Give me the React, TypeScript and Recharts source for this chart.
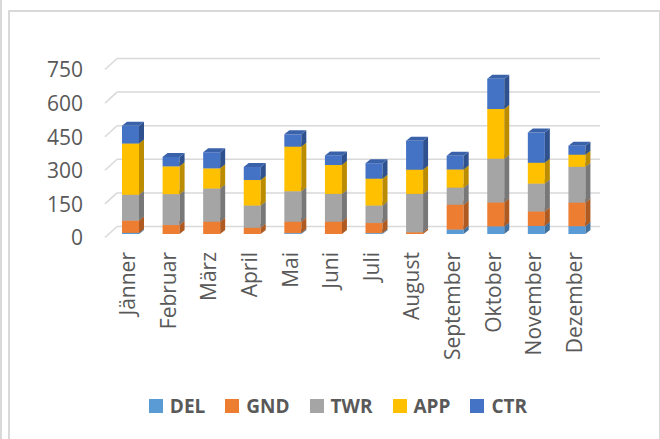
import React from 'react';
import { BarChart, Bar, XAxis, YAxis, CartesianGrid, Legend } from 'recharts';

const months = ['Jänner', 'Februar', 'März', 'April', 'Mai', 'Juni', 'Juli', 'August', 'September', 'Oktober', 'November', 'Dezember'];
const del = [5, 0, 0, 0, 4, 0, 4, 0, 20, 34, 36, 35];
const gnd = [55, 40, 55, 28, 51, 55, 45, 8, 111, 107, 65, 105];
const twr = [115, 138, 148, 99, 136, 124, 78, 171, 76, 195, 124, 160];
const app = [229, 124, 90, 114, 199, 129, 120, 108, 81, 222, 93, 54];
const ctr = [79, 42, 72, 58, 55, 43, 69, 129, 61, 135, 135, 40];
const yTicks = [0, 150, 300, 450, 600, 750];

const series = [
  { key: 'DEL', color: '#5B9BD5', side: '#41719C', top: '#4A85BC' },
  { key: 'GND', color: '#ED7D31', side: '#AE5A21', top: '#C9692A' },
  { key: 'TWR', color: '#A5A5A5', side: '#787878', top: '#8E8E8E' },
  { key: 'APP', color: '#FFC000', side: '#BC8C00', top: '#DCA600' },
  { key: 'CTR', color: '#4472C4', side: '#2F528F', top: '#3A62AA' },
];

const data = months.map((m, i) => ({
  month: m, DEL: del[i], GND: gnd[i], TWR: twr[i], APP: app[i], CTR: ctr[i],
}));

const FONT = '"Open Sans", sans-serif';
const DX = 5;
const DY = 4;

// front face + right side + top, to fake the 3d columns
const Box3D = (props: any) => {
  const { x, y, width, height, fill, side, top } = props;
  if (!height || height <= 0) return null;
  return (
    <g>
      <rect x={x} y={y} width={width} height={height} fill={fill} />
      <polygon
        points={`${x + width},${y} ${x + width + DX},${y - DY} ${x + width + DX},${y + height - DY} ${x + width},${y + height}`}
        fill={side}
      />
      <polygon
        points={`${x},${y} ${x + DX},${y - DY} ${x + width + DX},${y - DY} ${x + width},${y}`}
        fill={top}
      />
    </g>
  );
};

// back wall gridline with the short diagonal over the floor
const GridLine = (props: any) => {
  const { y1 } = props;
  return (
    <g key={props.key}>
      <line x1={105} y1={y1 + 3.5} x2={117} y2={y1 - 7.5} stroke="#D9D9D9" strokeWidth={1.5} />
      <line x1={117} y1={y1 - 7.5} x2={600} y2={y1 - 7.5} stroke="#D9D9D9" strokeWidth={1.5} />
    </g>
  );
};

const YTick = ({ y, payload }: any) => (
  <text x={83} y={y + 4} dy="0.35em" textAnchor="end" fill="#595959" fontSize={21} fontFamily={FONT}>
    {payload.value}
  </text>
);

const XTick = ({ x, y, payload }: any) => {
  const tx = x + 5;
  const ty = y + 10;
  return (
    <text x={tx} y={ty} transform={`rotate(-90, ${tx}, ${ty})`} textAnchor="end" fill="#595959" fontSize={21} fontFamily={FONT}>
      {payload.value}
    </text>
  );
};

const LegendContent = () => (
  <div style={{ display: 'flex', justifyContent: 'center', alignItems: 'center', height: 30, gap: 20, paddingLeft: 16 }}>
    {series.map((s) => (
      <div key={s.key} style={{ display: 'flex', alignItems: 'center', gap: 7 }}>
        <span style={{ width: 14, height: 14, background: s.color, display: 'inline-block' }} />
        <span style={{ color: '#595959', fontSize: 19, fontWeight: 700, fontFamily: FONT }}>{s.key}</span>
      </div>
    ))}
  </div>
);

export default function App() {
  return (
    <div style={{ position: 'absolute', left: 0, top: 0, width: 660, height: 439, background: '#fff', overflow: 'hidden' }}>
      <div style={{ position: 'absolute', left: 0, top: 0, width: 2, height: 439, background: '#D9D9D9' }} />
      <div style={{ position: 'absolute', left: 8, top: 10, width: 649, height: 460, border: '2px solid #D9D9D9' }} />
      <div style={{ position: 'absolute', left: 0, top: 0 }}>
        <BarChart width={660} height={439} data={data} margin={{ top: 66, right: 63, left: 0, bottom: 18 }}>
          <CartesianGrid vertical={false} horizontal={(p: any) => <GridLine {...p} />} />
          <XAxis dataKey="month" axisLine={false} tickLine={false} interval={0} height={157} tick={<XTick />} />
          <YAxis domain={[0, 750]} ticks={yTicks} axisLine={false} tickLine={false} width={110} tick={<YTick />} />
          <Legend
            verticalAlign="bottom"
            height={30}
            wrapperStyle={{ left: 0, width: 660 }}
            content={<LegendContent />}
          />
          {series.map((s) => (
            <Bar
              key={s.key}
              dataKey={s.key}
              stackId="a"
              fill={s.color}
              barSize={17}
              isAnimationActive={false}
              shape={(p: any) => <Box3D {...p} side={s.side} top={s.top} />}
            />
          ))}
        </BarChart>
      </div>
    </div>
  );
}
